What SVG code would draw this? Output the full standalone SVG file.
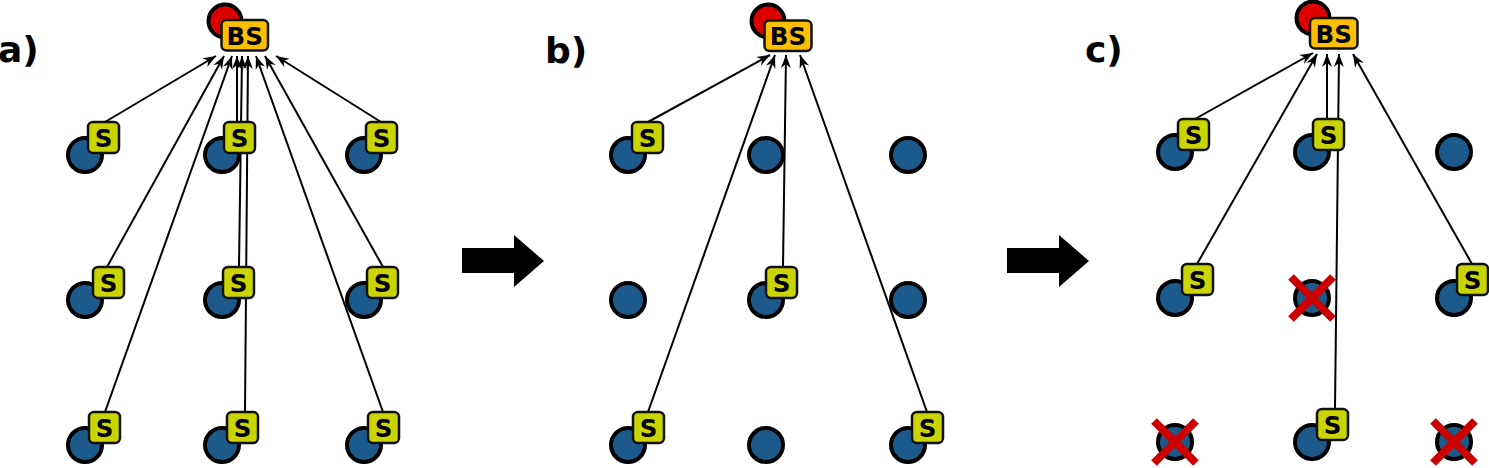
<svg xmlns="http://www.w3.org/2000/svg" width="1489" height="468" viewBox="0 0 1489 468">
<defs>
<style>
.node{fill:#1c5a8c;stroke:#000;stroke-width:4}
.bsdot{fill:#dd0000;stroke:#000;stroke-width:4}
.sbox{fill:#c9d400;stroke:#111;stroke-width:2.5}
.bsbox{fill:#fbbf00;stroke:#111;stroke-width:2.5}
.lbl{font-family:"DejaVu Sans",sans-serif;font-weight:bold;font-size:24.5px;text-anchor:middle;fill:#000}
.panel{font-family:"DejaVu Sans",sans-serif;font-weight:bold;font-size:36px;fill:#000}
.link{stroke:#000;stroke-width:2;fill:none;marker-end:url(#ah)}
.x{stroke:#cc0000;stroke-width:8}
</style>
<marker id="ah" markerUnits="userSpaceOnUse" markerWidth="16" markerHeight="12" viewBox="-14 -6 16 12" refX="0" refY="0" orient="auto">
<path d="M0,0 L-13,-5 L-9,0 L-13,5 Z" fill="#000"/>
</marker>
</defs>
<rect width="1489" height="468" fill="#fff"/>

<text class="panel" x="-2" y="62">a)</text>
<text class="panel" x="545" y="63">b)</text>
<text class="panel" x="1085" y="62">c)</text>

<polygon id="step1" points="462,248 514,248 514,235 544,261 514,287 514,273 462,273" fill="#000"/>
<polygon id="step2" points="1007,248 1059,248 1059,235 1089,261 1059,287 1059,273 1007,273" fill="#000"/>

<!-- base station circles -->
<g id="bs-a-dot"><circle class="bsdot" cx="225" cy="21" r="16.5"/></g>
<g id="bs-b-dot"><circle class="bsdot" cx="768" cy="21" r="16.5"/></g>
<g id="bs-c-dot"><circle class="bsdot" cx="1313" cy="18" r="16.5"/></g>

<!-- nodes panel a -->
<g id="a-n11"><circle class="node" cx="85" cy="155" r="17"/></g>
<g id="a-n12"><circle class="node" cx="222" cy="155" r="17"/></g>
<g id="a-n13"><circle class="node" cx="364" cy="155" r="17"/></g>
<g id="a-n21"><circle class="node" cx="85" cy="300" r="17"/></g>
<g id="a-n22"><circle class="node" cx="222" cy="300" r="17"/></g>
<g id="a-n23"><circle class="node" cx="364" cy="300" r="17"/></g>
<g id="a-n31"><circle class="node" cx="85" cy="445" r="17"/></g>
<g id="a-n32"><circle class="node" cx="222" cy="445" r="17"/></g>
<g id="a-n33"><circle class="node" cx="364" cy="445" r="17"/></g>

<!-- nodes panel b -->
<g id="b-n11"><circle class="node" cx="628" cy="155" r="17"/></g>
<g id="b-n12"><circle class="node" cx="766" cy="155" r="17"/></g>
<g id="b-n13"><circle class="node" cx="908" cy="155" r="17"/></g>
<g id="b-n21"><circle class="node" cx="628" cy="300" r="17"/></g>
<g id="b-n22"><circle class="node" cx="766" cy="300" r="17"/></g>
<g id="b-n23"><circle class="node" cx="908" cy="300" r="17"/></g>
<g id="b-n31"><circle class="node" cx="628" cy="445" r="17"/></g>
<g id="b-n32"><circle class="node" cx="766" cy="445" r="17"/></g>
<g id="b-n33"><circle class="node" cx="908" cy="445" r="17"/></g>

<!-- nodes panel c -->
<g id="c-n11"><circle class="node" cx="1175" cy="152" r="17"/></g>
<g id="c-n12"><circle class="node" cx="1312" cy="152" r="17"/></g>
<g id="c-n13"><circle class="node" cx="1454" cy="152" r="17"/></g>
<g id="c-n21"><circle class="node" cx="1175" cy="298" r="17"/></g>
<g id="c-n22"><circle class="node" cx="1312" cy="298" r="17"/><path class="x" d="M1291,277 L1333,319 M1333,277 L1291,319"/></g>
<g id="c-n23"><circle class="node" cx="1454" cy="298" r="17"/></g>
<g id="c-n31"><circle class="node" cx="1175" cy="442" r="17"/><path class="x" d="M1154,421 L1196,463 M1196,421 L1154,463"/></g>
<g id="c-n32"><circle class="node" cx="1312" cy="442" r="17"/></g>
<g id="c-n33"><circle class="node" cx="1454" cy="442" r="17"/><path class="x" d="M1433,421 L1475,463 M1475,421 L1433,463"/></g>

<!-- connectors -->
<g id="connectors">
<line class="link" x1="105" y1="122" x2="216" y2="56"/>
<line class="link" x1="107" y1="267" x2="224" y2="56"/>
<line class="link" x1="105" y1="412" x2="232" y2="56"/>
<line class="link" x1="237" y1="122" x2="237" y2="56"/>
<line class="link" x1="239" y1="267" x2="242" y2="56"/>
<line class="link" x1="245" y1="412" x2="248" y2="56"/>
<line class="link" x1="383" y1="412" x2="256" y2="56"/>
<line class="link" x1="383" y1="267" x2="265" y2="56"/>
<line class="link" x1="381" y1="122" x2="276" y2="56"/>

<line class="link" x1="648" y1="122" x2="770" y2="55"/>
<line class="link" x1="648" y1="412" x2="775" y2="55"/>
<line class="link" x1="783" y1="267" x2="786" y2="55"/>
<line class="link" x1="927" y1="412" x2="800" y2="55"/>

<line class="link" x1="1195" y1="119" x2="1313" y2="53"/>
<line class="link" x1="1197" y1="264" x2="1317" y2="54"/>
<line class="link" x1="1327" y1="119" x2="1327" y2="54"/>
<line class="link" x1="1335" y1="409" x2="1339" y2="54"/>
<line class="link" x1="1472" y1="264" x2="1353" y2="54"/>
</g>

<!-- sensor badges panel a -->
<g id="a-s11"><rect class="sbox" x="88" y="122" width="31" height="31" rx="5"/><text class="lbl" x="103.5" y="147">S</text></g>
<g id="a-s12"><rect class="sbox" x="224" y="122" width="31" height="31" rx="5"/><text class="lbl" x="239.5" y="147">S</text></g>
<g id="a-s13"><rect class="sbox" x="366" y="122" width="31" height="31" rx="5"/><text class="lbl" x="381.5" y="147">S</text></g>
<g id="a-s21"><rect class="sbox" x="93" y="267" width="31" height="31" rx="5"/><text class="lbl" x="108.5" y="292">S</text></g>
<g id="a-s22"><rect class="sbox" x="223" y="267" width="31" height="31" rx="5"/><text class="lbl" x="238.5" y="292">S</text></g>
<g id="a-s23"><rect class="sbox" x="367" y="267" width="31" height="31" rx="5"/><text class="lbl" x="382.5" y="292">S</text></g>
<g id="a-s31"><rect class="sbox" x="89" y="412" width="31" height="31" rx="5"/><text class="lbl" x="104.5" y="437">S</text></g>
<g id="a-s32"><rect class="sbox" x="227" y="412" width="31" height="31" rx="5"/><text class="lbl" x="242.5" y="437">S</text></g>
<g id="a-s33"><rect class="sbox" x="368" y="412" width="31" height="31" rx="5"/><text class="lbl" x="383.5" y="437">S</text></g>

<!-- sensor badges panel b -->
<g id="b-s11"><rect class="sbox" x="632" y="122" width="31" height="31" rx="5"/><text class="lbl" x="647.5" y="147">S</text></g>
<g id="b-s22"><rect class="sbox" x="766" y="267" width="31" height="31" rx="5"/><text class="lbl" x="781.5" y="292">S</text></g>
<g id="b-s31"><rect class="sbox" x="633" y="412" width="31" height="31" rx="5"/><text class="lbl" x="648.5" y="437">S</text></g>
<g id="b-s33"><rect class="sbox" x="912" y="412" width="31" height="31" rx="5"/><text class="lbl" x="927.5" y="437">S</text></g>

<!-- sensor badges panel c -->
<g id="c-s11"><rect class="sbox" x="1178" y="119" width="31" height="31" rx="5"/><text class="lbl" x="1193.5" y="144">S</text></g>
<g id="c-s12"><rect class="sbox" x="1313" y="119" width="31" height="31" rx="5"/><text class="lbl" x="1328.5" y="144">S</text></g>
<g id="c-s21"><rect class="sbox" x="1182" y="264" width="31" height="31" rx="5"/><text class="lbl" x="1197.5" y="289">S</text></g>
<g id="c-s23"><rect class="sbox" x="1457" y="264" width="31" height="31" rx="5"/><text class="lbl" x="1472.5" y="289">S</text></g>
<g id="c-s32"><rect class="sbox" x="1317" y="409" width="31" height="31" rx="5"/><text class="lbl" x="1332.5" y="434">S</text></g>

<!-- base station labels -->
<g id="bs-a"><rect class="bsbox" x="221.5" y="20" width="46.5" height="30.5" rx="5"/><text class="lbl" x="244.75" y="44.5">BS</text></g>
<g id="bs-b"><rect class="bsbox" x="764.5" y="20.5" width="47" height="30.5" rx="5"/><text class="lbl" x="788" y="45">BS</text></g>
<g id="bs-c"><rect class="bsbox" x="1310" y="18" width="47.5" height="30.5" rx="5"/><text class="lbl" x="1333.75" y="42.5">BS</text></g>
</svg>
